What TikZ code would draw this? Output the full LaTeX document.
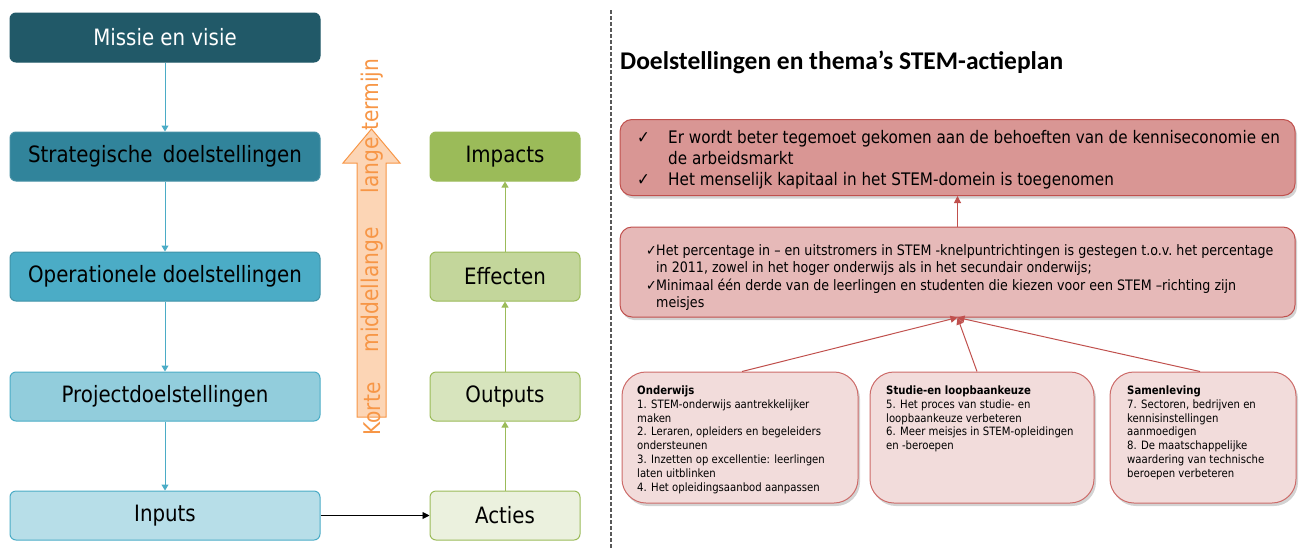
\documentclass[tikz,border=0pt]{standalone}
\usepackage{fontspec}
\setmainfont{DejaVu Sans}[FakeStretch=0.88]
\newfontfamily\titlefont{Carlito}
\usetikzlibrary{arrows.meta,shadows}
\definecolor{cMis}{HTML}{215968}
\definecolor{cStr}{HTML}{31849B}
\definecolor{cOpe}{HTML}{4BACC6}
\definecolor{cPro}{HTML}{92CDDC}
\definecolor{cInp}{HTML}{B7DEE8}
\definecolor{cBlueLine}{HTML}{4BACC6}
\definecolor{gImp}{HTML}{9BBB59}
\definecolor{gEff}{HTML}{C3D69B}
\definecolor{gOut}{HTML}{D7E4BD}
\definecolor{gAct}{HTML}{EBF1DE}
\definecolor{gLine}{HTML}{9BBB59}
\definecolor{oFill}{HTML}{FCD5B5}
\definecolor{oLine}{HTML}{F79646}
\definecolor{rTop}{HTML}{D99694}
\definecolor{rMid}{HTML}{E6B9B8}
\definecolor{rLow}{HTML}{F2DCDB}
\definecolor{rLine}{HTML}{C0504D}
\definecolor{rLineL}{HTML}{CD6B69}
\begin{document}
\begin{tikzpicture}[x=1pt,y=-1pt,
  lbox/.style={draw, rounded corners=6pt, minimum width=310pt, minimum height=49pt, line width=1pt, font=\fontsize{22.5}{26}\selectfont, inner sep=0pt},
  gbox/.style={draw=gLine, rounded corners=6pt, minimum width=150pt, minimum height=49pt, line width=1pt, font=\fontsize{22.5}{26}\selectfont, inner sep=0pt},
  barrow/.style={draw=cBlueLine, line width=1pt, -{Triangle[width=7pt,length=6pt]}},
  garrow/.style={draw=gLine, line width=1pt, -{Triangle[width=7pt,length=6pt]}},
  karrow/.style={draw=black, line width=0.9pt, -{Triangle[width=7pt,length=7pt]}},
  rarrow/.style={draw=rLine, line width=1pt, -{Triangle[width=7pt,length=7pt]}},
  rbox/.style={draw=rLine, line width=1pt, rounded corners=12pt, drop shadow={opacity=0.35, shadow xshift=2pt, shadow yshift=-3pt}},
  sbox/.style={draw=rLineL, fill=rLow, line width=1pt, rounded corners=24pt, minimum height=131pt, drop shadow={opacity=0.35, shadow xshift=2pt, shadow yshift=-3pt}},
  rtext/.style={anchor=north west, inner sep=0pt, align=left},
  otext/.style={text=oLine, rotate=90, font=\fontsize{23}{26}\selectfont, inner sep=0pt}
]
\useasboundingbox (0,0) rectangle (1300,549);
% left column
\node[lbox, fill=cMis, draw=cMis, text=white] (missie) at (165,37.5) {Missie en visie};
\node[lbox, fill=cStr, draw=cStr!90!white] (strat) at (165,156.5) {Strategische\hspace{4pt} doelstellingen};
\node[lbox, fill=cOpe, draw=cOpe!85!black] (oper) at (165,276.5) {Operationele doelstellingen};
\node[lbox, fill=cPro, draw=cOpe] (proj) at (165,396.5) {Projectdoelstellingen};
\node[lbox, fill=cInp, draw=cOpe] (inputs) at (165,515.5) {Inputs};
\draw[barrow] (missie) -- (strat);
\draw[barrow] (strat) -- (oper);
\draw[barrow] (oper) -- (proj);
\draw[barrow] (proj) -- (inputs);
% green column
\node[gbox, fill=gImp] (impacts) at (505,156.5) {Impacts};
\node[gbox, fill=gEff] (effecten) at (505,276.5) {Effecten};
\node[gbox, fill=gOut] (outputs) at (505,396.5) {Outputs};
\node[gbox, fill=gAct] (acties) at (505,515.5) {Acties};
\draw[garrow] (acties) -- (outputs);
\draw[garrow] (outputs) -- (effecten);
\draw[garrow] (effecten) -- (impacts);
\draw[karrow] (inputs) -- (acties);
% orange arrow
\draw[fill=oFill, draw=oLine, line width=1pt, line join=miter]
  (357,417) -- (357,163) -- (343,163) -- (371.5,129) -- (400,163) -- (386,163) -- (386,417) -- cycle;
\node[otext] (korte) at (372,409) {Korte};
\node[otext] (middel) at (372,290) {middellange};
\node[otext] (lange) at (372,126) {lange termijn};
% divider
\draw[dashed, draw=black!65, line width=1.4pt, dash pattern=on 4pt off 2pt] (611,10) -- (611,549);
% title
\node[anchor=west, inner sep=0pt, font=\titlefont\bfseries\fontsize{25.5}{28}\selectfont] (title) at (620,62) {Doelstellingen en thema’s STEM-actieplan};
% right boxes
\node[rbox, fill=rTop, minimum width=675pt, minimum height=76pt] (r1) at (957.5,157.5) {};
\node[rbox, fill=rMid, minimum width=675pt, minimum height=90pt] (r2) at (957.5,272) {};
\node[rtext, font=\fontsize{17.3}{21.3}\selectfont] (t1) at (637,128) {%
\begin{tabular}{@{}p{20pt}@{\hspace{11pt}}l@{}}
✓ & Er wordt beter tegemoet gekomen aan de behoeften van de kenniseconomie en\\
  & de arbeidsmarkt\\
✓ & Het menselijk kapitaal in het STEM-domein is toegenomen
\end{tabular}};
\node[rtext, font=\fontsize{14.4}{17.5}\selectfont] (t2) at (646,243) {%
\begin{tabular}{@{}p{9pt}@{\hspace{1pt}}l@{}}
✓ & Het percentage in – en uitstromers in STEM -knelpuntrichtingen is gestegen t.o.v.\ het percentage\\
  & in 2011, zowel in het hoger onderwijs als in het secundair onderwijs;\\
✓ & Minimaal één derde van de leerlingen en studenten die kiezen voor een STEM –richting zijn\\
  & meisjes
\end{tabular}};
% bottom boxes
\node[sbox, minimum width=236pt] (b1) at (740,437.5) {};
\node[sbox, minimum width=224pt] (b2) at (982,437.5) {};
\node[sbox, minimum width=186pt] (b3) at (1203,437.5) {};
\node[rtext, font=\fontsize{11.5}{13.8}\selectfont] (t3) at (637,385.5) {\textbf{Onderwijs}\\
1. STEM-onderwijs aantrekkelijker\\ maken\\
2. Leraren, opleiders en begeleiders\\ ondersteunen\\
3. Inzetten op excellentie: leerlingen\\ laten uitblinken\\
4. Het opleidingsaanbod aanpassen};
\node[rtext, font=\fontsize{11.5}{13.8}\selectfont] (t4) at (886,385.5) {\textbf{Studie-en loopbaankeuze}\\
5. Het proces van studie- en\\ loopbaankeuze verbeteren\\
6. Meer meisjes in STEM-opleidingen\\ en -beroepen};
\node[rtext, font=\fontsize{11.5}{13.8}\selectfont] (t5) at (1127,385.5) {\textbf{Samenleving}\\
7. Sectoren, bedrijven en\\ kennisinstellingen\\ aanmoedigen\\
8. De maatschappelijke\\ waardering van technische\\ beroepen verbeteren};
% red arrows
\draw[rarrow] (r2.north) -- (r1.south);
\draw[rarrow] ([xshift=2pt]b1.north) -- (r2.south);
\draw[rarrow] ([xshift=-5pt]b2.north) -- (r2.south);
\draw[rarrow] ([xshift=-3pt]b3.north) -- (r2.south);
\end{tikzpicture}
\end{document}
